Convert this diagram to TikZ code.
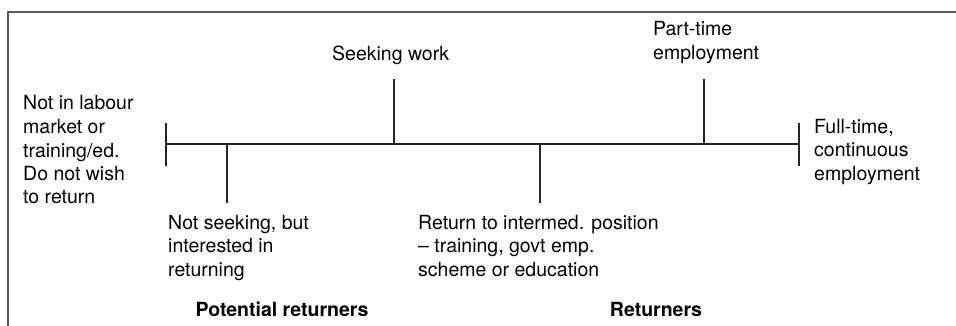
\documentclass[tikz,border=0pt]{standalone}
\usepackage{fontspec}
\setmainfont{TeX Gyre Heros}
\begin{document}
\begin{tikzpicture}[x=1pt, y=-1pt,
    txt/.style={anchor=base west, align=left, inner sep=0pt, font=\fontsize{19.5}{23.5}\selectfont},
    group/.style={anchor=base, inner sep=0pt, font=\fontsize{19.5}{23.5}\selectfont\bfseries},
    axis/.style={line width=1.2pt, black!85}]
    \useasboundingbox (0,0) rectangle (956,326);
    % frame
    \draw[line width=1.2pt, black!65] (8,326) -- (8,12) -- (956,12);
    % axis
    \coordinate (start) at (166,144);
    \coordinate (finish) at (799,144);
    \draw[axis] (start) -- (finish);
    % end ticks
    \coordinate (start top) at (166,123);
    \coordinate (start bot) at (166,166);
    \coordinate (finish top) at (799,123);
    \coordinate (finish bot) at (799,166);
    \draw[axis] (start top) -- (start bot);
    \draw[axis] (finish top) -- (finish bot);
    % ticks below
    \coordinate (interest) at (227,144);
    \coordinate (interest end) at (227,203);
    \coordinate (intermed) at (540,144);
    \coordinate (intermed end) at (540,203);
    \draw[axis] (interest) -- (interest end);
    \draw[axis] (intermed) -- (intermed end);
    % ticks above
    \coordinate (seeking) at (394,144);
    \coordinate (seeking end) at (394,79);
    \coordinate (parttime) at (704,144);
    \coordinate (parttime end) at (704,79);
    \draw[axis] (seeking) -- (seeking end);
    \draw[axis] (parttime) -- (parttime end);
    % labels (base = last line)
    \node[txt] (notlabour) at (23,204) {Not in labour\\market or\\training/ed.\\Do not wish\\to return};
    \node[txt] (notseeking) at (168,276) {Not seeking, but\\interested in\\returning};
    \node[txt] (seekwork) at (332,61) {Seeking work};
    \node[txt] (return) at (418,276) {Return to intermed. position\\– training, govt emp.\\scheme or education};
    \node[txt] (parttext) at (653,59.5) {Part-time\\employment};
    \node[txt] (fulltime) at (814,180) {Full-time,\\continuous\\employment};
    % groups
    \node[group] (potential) at (282,316) {Potential returners};
    \node[group] (returners) at (656,316) {Returners};
\end{tikzpicture}
\end{document}
